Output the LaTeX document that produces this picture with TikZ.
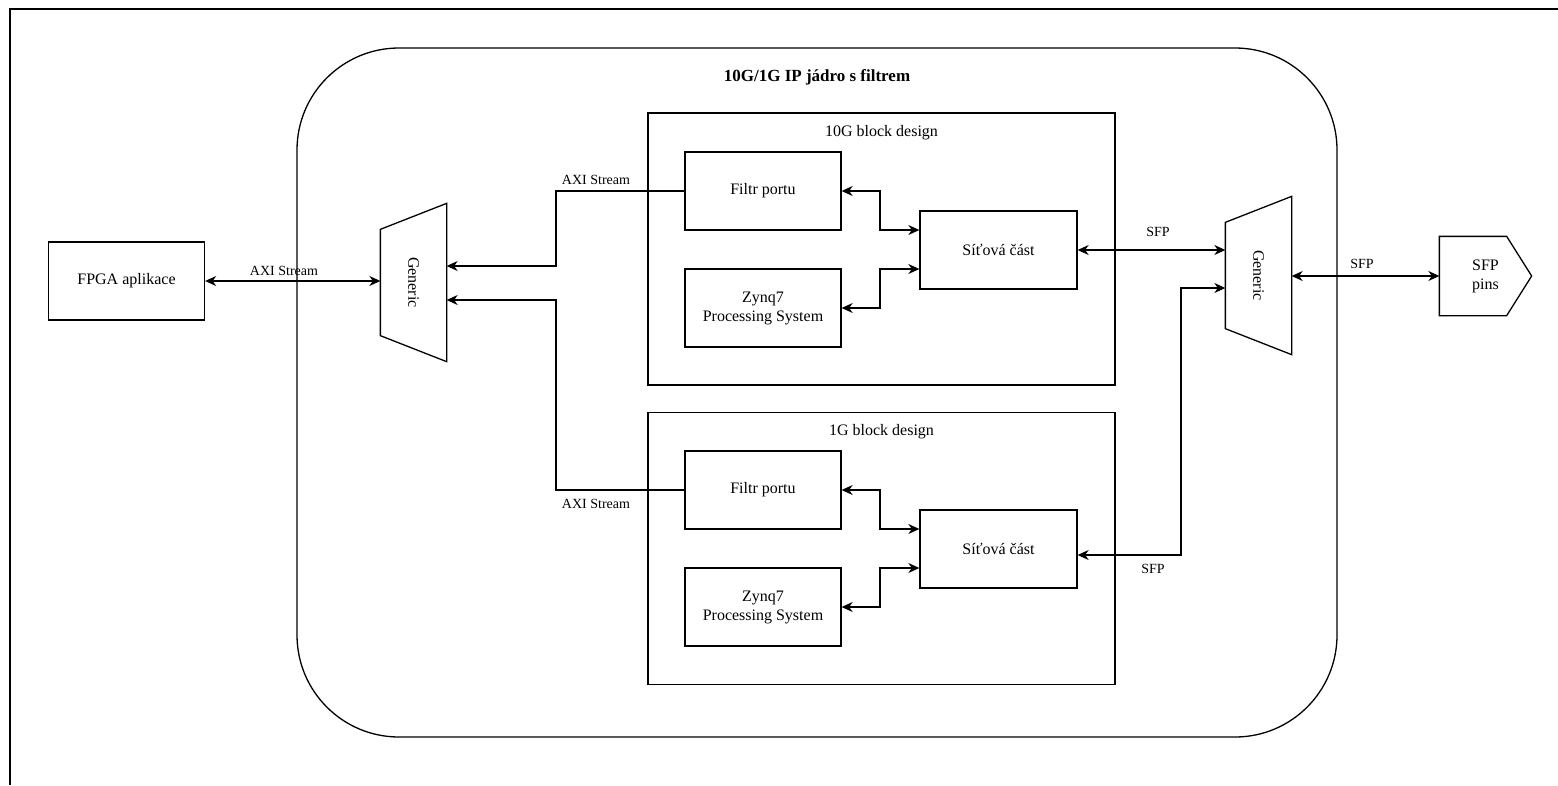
\documentclass[tikz,border=0pt]{standalone}
\usepackage{fontspec}
\setmainfont{Liberation Serif}
\usetikzlibrary{arrows.meta,calc,positioning}

\begin{document}
\begin{tikzpicture}[x=1pt,y=-1pt,line width=1.3pt,
  tip/.tip={Stealth[length=11pt,width=10pt,inset=3.5pt]},
  arr/.style={-tip},
  both/.style={tip-tip},
  txt/.style={font=\fontsize{16}{19}\selectfont},
  lbl/.style={font=\fontsize{14}{16}\selectfont, inner sep=0pt},
  box/.style={draw, txt, align=center, inner sep=0pt, minimum width=156pt, minimum height=78pt},
  group/.style={draw, inner sep=0pt, minimum width=467pt, minimum height=272pt},
  muxbody/.style={inner sep=0pt, minimum width=65pt, minimum height=157pt}
]
\useasboundingbox (0,0) rectangle (1558,785);

% sheet frame
\draw (10,785) -- (10,9) -- (1558,9);

% IP core outline
\draw[rounded corners=102pt] (297,48) rectangle (1337,737);
\node[font=\fontsize{17}{20}\selectfont\bfseries] (title) at (817,77) {10G/1G IP jádro s filtrem};

% FPGA application
\node[box] (fpga) at (126.5,281) {FPGA aplikace};

% left multiplexer (narrow side left)
\node[muxbody] (gl) at (413.5,282.5) {};
\draw (gl.north east) -- ($(gl.north west)+(0,26)$) -- ($(gl.south west)+(0,-26)$) -- (gl.south east) -- cycle;
\node[txt, rotate=-90] at (gl) {Generic};

% right multiplexer (narrow side left)
\node[muxbody] (gr) at (1258.5,275.5) {};
\draw (gr.north east) -- ($(gr.north west)+(0,26)$) -- ($(gr.south west)+(0,-26)$) -- (gr.south east) -- cycle;
\node[txt, rotate=-90] at (gr) {Generic};

% SFP pins
\node[txt, align=center, inner sep=0pt, minimum width=91pt, minimum height=78pt] (pins) at (1485.5,276) {SFP\\pins};
\draw (pins.north west) -- ($(pins.north east)+(-25,0)$) -- (pins.east) -- ($(pins.south east)+(-25,0)$) -- (pins.south west) -- cycle;

% 10G block design
\node[group] (bd10) at (881.5,249) {};
\node[txt, below=12pt of bd10.north, inner sep=0pt] (bd10t) {10G block design};
\node[box] (f10) at (763,191) {Filtr portu};
\node[box] (z10) at (763,308) {Zynq7\\Processing System};
\node[box, minimum width=157pt] (s10) at (998.5,250) {Síťová část};

% 1G block design
\node[group] (bd1) at (881.5,548.5) {};
\node[txt, below=12pt of bd1.north, inner sep=0pt] (bd1t) {1G block design};
\node[box] (f1) at (763,490) {Filtr portu};
\node[box] (z1) at (763,607) {Zynq7\\Processing System};
\node[box, minimum width=157pt] (s1) at (998.5,549) {Síťová část};

% routing points
\coordinate (axi10) at (556,266);
\coordinate (axi1) at (556,300);
\coordinate (bf10) at (880,230);
\coordinate (bz10) at (880,269);
\coordinate (bf1) at (880,529);
\coordinate (bz1) at (880,568);
\coordinate (sfp1) at (1181,555);
\coordinate (sfpin) at (1181,288);

% connectors
\draw[both] (fpga.east) -- (fpga.east -| gl.west);
\node[lbl] at (284,271) {AXI Stream};

\draw[arr] (f10.west) -| (axi10) -- (axi10 -| gl.east);
\node[lbl] at (596,180) {AXI Stream};
\draw[arr] (f1.west) -| (axi1) -- (axi1 -| gl.east);
\node[lbl] at (596,504) {AXI Stream};

\draw[both] (f10.east) -| (bf10) -- (bf10 -| s10.west);
\draw[both] (z10.east) -| (bz10) -- (bz10 -| s10.west);
\draw[both] (f1.east) -| (bf1) -- (bf1 -| s1.west);
\draw[both] (z1.east) -| (bz1) -- (bz1 -| s1.west);

\draw[both] (s10.east) -- (s10.east -| gr.west);
\node[lbl] at (1158,232) {SFP};
\draw[both] (sfp1 -| s1.east) -- (sfp1) -- (sfpin) -- (sfpin -| gr.west);
\node[lbl] at (1153,569) {SFP};

\draw[both] (gr.east |- pins.west) -- (pins.west);
\node[lbl] at (1362,264) {SFP};
\end{tikzpicture}
\end{document}
